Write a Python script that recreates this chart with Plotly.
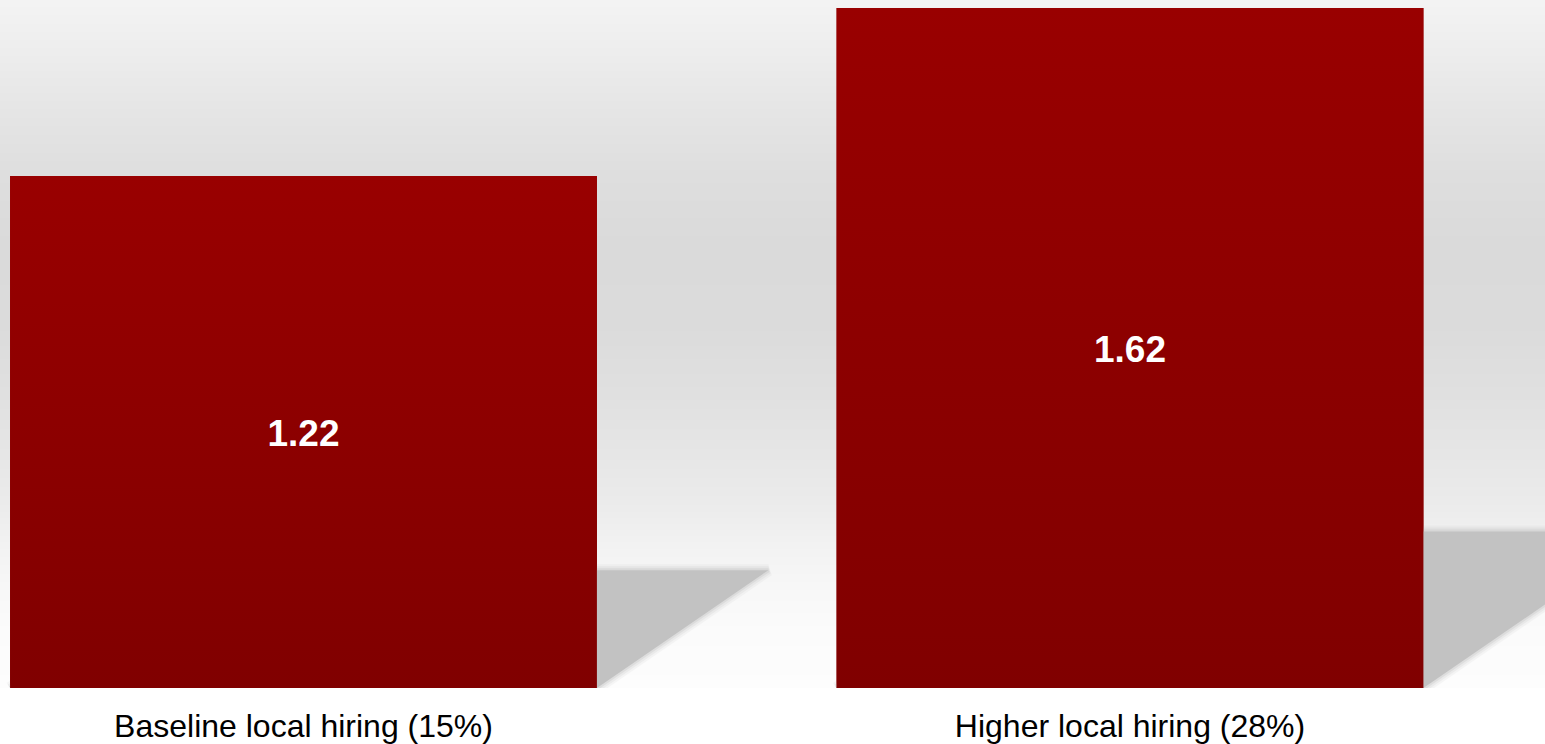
import base64
import struct
import zlib

import plotly.graph_objects as go

# ---- data ----
categories = ["Baseline local hiring (15%)", "Higher local hiring (28%)"]
values = [1.22, 1.62]
positions = [0, 1]

# ---- style ----
W, H = 1545, 744
BAR_WIDTH = 0.71
SHADOW_H = 0.23      # shadow height as share of bar value
SHADOW_DX = 0.17     # shadow horizontal shear per unit of value (x units)
LABEL_NUDGE = 0.012  # small downward nudge of value labels (y units)
FONT = "Liberation Sans, Arial, sans-serif"


def gradient_png(stops, height):
    """Build a 2 x height grayscale PNG with a vertical gradient."""
    rows = []
    for yy in range(height):
        g = stops[-1][1]
        for i in range(len(stops) - 1):
            y0, g0 = stops[i]
            y1, g1 = stops[i + 1]
            if y0 <= yy <= y1:
                t = (yy - y0) / (y1 - y0) if y1 > y0 else 0
                g = round(g0 + (g1 - g0) * t)
                break
        rows.append(b"\x00" + bytes([g, g]))
    raw = b"".join(rows)

    def chunk(tag, data):
        c = struct.pack(">I", len(data)) + tag + data
        return c + struct.pack(">I", zlib.crc32(tag + data) & 0xFFFFFFFF)

    png = b"\x89PNG\r\n\x1a\n"
    png += chunk(b"IHDR", struct.pack(">IIBBBBB", 2, height, 8, 0, 0, 0, 0))
    png += chunk(b"IDAT", zlib.compress(raw, 9))
    png += chunk(b"IEND", b"")
    return "data:image/png;base64," + base64.b64encode(png).decode()


bg_stops = [(0, 248), (50, 244), (100, 238), (160, 230), (230, 222), (300, 218),
            (380, 219), (450, 224), (520, 231), (565, 236), (600, 242),
            (650, 248), (688, 251), (744, 253)]

fig = go.Figure()

# shadows (soft halo layers + core)
halo_layers = [(12, 0.12), (8, 0.18), (4, 0.3)]
for x, v in zip(positions, values):
    h = v * SHADOW_H
    dx = v * SHADOW_DX
    xl, xr = x - BAR_WIDTH / 2, x + BAR_WIDTH / 2
    sx = [xl, xr, xr + dx, xl + dx, xl]
    sy = [0, 0, h, h, 0]
    for lw, op in halo_layers:
        fig.add_trace(go.Scatter(
            x=sx, y=sy, mode="lines",
            line=dict(color="#c0c0c0", width=lw),
            opacity=op, hoverinfo="skip", showlegend=False,
        ))
    fig.add_trace(go.Scatter(
        x=sx, y=sy, mode="lines", fill="toself",
        fillcolor="#c2c2c2",
        line=dict(color="rgba(0,0,0,0)", width=0),
        hoverinfo="skip", showlegend=False,
    ))

# base bars
fig.add_trace(go.Bar(
    x=positions, y=values, width=BAR_WIDTH,
    marker=dict(color="#8c0000", line=dict(width=0)),
    hoverinfo="skip", showlegend=False,
))

# gradient overlay for bars
for x, v in zip(positions, values):
    xl, xr = x - BAR_WIDTH / 2, x + BAR_WIDTH / 2
    fig.add_trace(go.Scatter(
        x=[xl, xr, xr, xl, xl],
        y=[0, 0, v, v, 0],
        mode="lines", fill="toself",
        line=dict(width=0, color="rgba(0,0,0,0)"),
        fillgradient=dict(type="vertical", start=0, stop=v,
                          colorscale=[[0, "#800000"], [1, "#990000"]]),
        hoverinfo="skip", showlegend=False,
    ))

# value labels
fig.add_trace(go.Scatter(
    x=positions, y=[v / 2 - LABEL_NUDGE for v in values],
    mode="text", text=[f"{v:.2f}" for v in values],
    textposition="middle center",
    textfont=dict(family=FONT, size=37, color="white", weight="bold"),
    hoverinfo="skip", showlegend=False,
))

px_per_x = 826.5
x_center0 = 303.5
fig.update_layout(
    width=W, height=H,
    margin=dict(l=0, r=0, t=0, b=56, pad=0),
    paper_bgcolor="white",
    plot_bgcolor="rgba(0,0,0,0)",
    showlegend=False,
    images=[dict(source=gradient_png(bg_stops, H), xref="paper", yref="paper",
                 x=0, y=H / 688, sizex=1, sizey=H / 688, sizing="stretch",
                 xanchor="left", yanchor="top", layer="below")],
    xaxis=dict(range=[-x_center0 / px_per_x, (W - x_center0) / px_per_x],
               tickvals=positions, ticktext=categories,
               tickfont=dict(family=FONT, size=32, color="black"),
               ticklabelstandoff=16,
               showgrid=False, zeroline=False, showline=False, ticks="",
               fixedrange=True),
    yaxis=dict(range=[0, 688 / 419.7], visible=False, showgrid=False,
               zeroline=False, fixedrange=True),
)

fig.write_html("out.html")
